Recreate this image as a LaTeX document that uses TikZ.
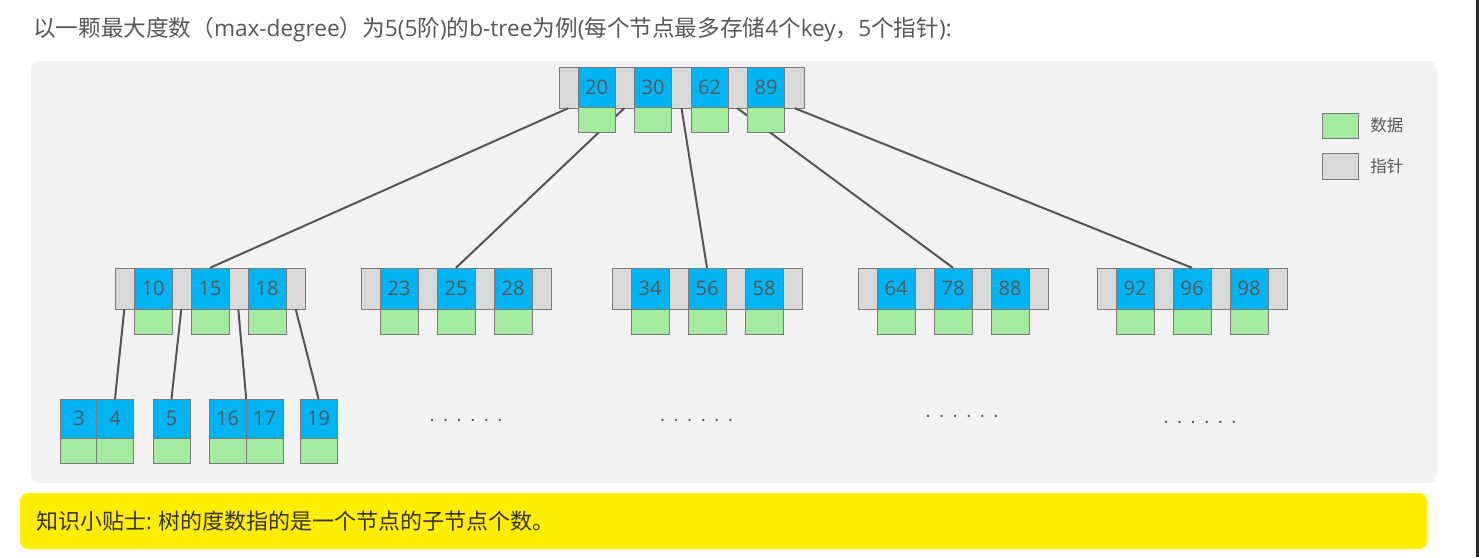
\documentclass[tikz,border=0pt]{standalone}
\usepackage{fontspec}
\setmainfont{Noto Sans CJK SC}
\newfontfamily\latin{Open Sans}
\newfontfamily\dotfont[LetterSpace=40]{Liberation Sans}
\usetikzlibrary{positioning}
\definecolor{keyblue}{HTML}{00B4F4}
\definecolor{datgreen}{HTML}{A3EB9E}
\definecolor{ptrgray}{HTML}{D9D9D9}
\definecolor{boxline}{HTML}{7A7A7A}
\definecolor{edgegray}{HTML}{555555}
\definecolor{txtgray}{HTML}{585858}
\definecolor{panelgray}{HTML}{F2F2F2}
\definecolor{tipyellow}{HTML}{FFEE00}
\begin{document}
\begin{tikzpicture}[x=1pt,y=-1pt,
  ptr/.style={draw=boxline, fill=ptrgray, minimum width=190pt, minimum height=41pt, inner sep=0pt},
  key/.style={draw=boxline, fill=keyblue, minimum width=38pt, minimum height=41pt, inner sep=0pt, font=\latin\fontsize{20}{20}\selectfont, text=txtgray},
  dat/.style={draw=boxline, fill=datgreen, minimum width=38pt, minimum height=25pt, inner sep=0pt},
  leaf/.style={key, minimum width=37pt, minimum height=39pt},
  link/.style={draw=edgegray, line width=2pt},
  dots/.style={anchor=base, inner sep=0pt, font=\dotfont\fontsize{20}{20}\selectfont, text=txtgray}]
\useasboundingbox (0,0) rectangle (1479,557);
\fill[white] (0,0) rectangle (1479,557);
\fill[panelgray, rounded corners=8pt] (31,61) rectangle (1437,483);
\fill[tipyellow, rounded corners=8pt] (20,493) rectangle (1427,549);
\fill[black!85] (1476,0) rectangle (1479,557);
\node[anchor=west, inner sep=0pt, text=txtgray, font=\fontsize{22.6}{22.6}\selectfont] (title) at (33,30)
  {以一颗最大度数（{\latin max-degree}）为{\latin 5(5}阶{\latin )}的{\latin b-tree}为例{\latin (}每个节点最多存储{\latin 4}个{\latin key}，{\latin 5}个指针{\latin ):}};
\node[anchor=west, inner sep=0pt, text=black!80, font=\fontsize{22}{22}\selectfont] (tip) at (36,521)
  {知识小贴士{\latin :} 树的度数指的是一个节点的子节点个数。};
% root
\node[ptr, minimum width=245pt] (root) at (681.5,87.5) {};
\node[key, minimum width=37pt] (k20) at (596.5,87.5) {20};
\node[key, minimum width=37pt] (k30) at (653,87.5) {30};
\node[key, minimum width=37pt] (k62) at (709.5,87.5) {62};
\node[key, minimum width=37pt] (k89) at (766,87.5) {89};
% second level
\node[ptr] (b1) at (210,288.5) {};
\node[key] (k10) at (153,288.5) {10};
\node[key] (k15) at (210,288.5) {15};
\node[key] (k18) at (267,288.5) {18};
\node[ptr] (b2) at (456,288.5) {};
\node[key] (k23) at (399,288.5) {23};
\node[key] (k25) at (456,288.5) {25};
\node[key] (k28) at (513,288.5) {28};
\node[ptr] (b3) at (707,288.5) {};
\node[key] (k34) at (650,288.5) {34};
\node[key] (k56) at (707,288.5) {56};
\node[key] (k58) at (764,288.5) {58};
\node[ptr] (b4) at (953,288.5) {};
\node[key] (k64) at (896,288.5) {64};
\node[key] (k78) at (953,288.5) {78};
\node[key] (k88) at (1010,288.5) {88};
\node[ptr] (b5) at (1192,288.5) {};
\node[key] (k92) at (1135,288.5) {92};
\node[key] (k96) at (1192,288.5) {96};
\node[key] (k98) at (1249,288.5) {98};
% leaves
\node[leaf] (l3) at (79,418.5) {3};
\node[leaf] (l4) at (115,418.5) {4};
\node[leaf] (l5) at (171.5,418.5) {5};
\node[leaf] (l16) at (227.5,418.5) {16};
\node[leaf] (l17) at (264.5,418.5) {17};
\node[leaf] (l19) at (318.5,418.5) {19};
% pointers
\draw[link] ([xshift=9.5pt]root.south west) -- (k15.north);
\draw[link] ([xshift=65.5pt]root.south west) -- (k25.north);
\draw[link] (root.south) -- (k56.north);
\draw[link] ([xshift=178.5pt]root.south west) -- (k78.north);
\draw[link] ([xshift=-9.5pt]root.south east) -- (k96.north);
\draw[link] ([xshift=9.5pt]b1.south west) -- (l4.north);
\draw[link] ([xshift=66.5pt]b1.south west) -- (l5.north);
\draw[link] ([xshift=123.5pt]b1.south west) -- (l16.north east);
\draw[link] ([xshift=-9.5pt]b1.south east) -- (l19.north);
% data
\node[dat, minimum width=37pt] (d20) at (596.5,120) {};
\node[dat, minimum width=37pt] (d30) at (653,120) {};
\node[dat, minimum width=37pt] (d62) at (709.5,120) {};
\node[dat, minimum width=37pt] (d89) at (766,120) {};
\node[dat] (d10) at (153,321.5) {};
\node[dat] (d15) at (210,321.5) {};
\node[dat] (d18) at (267,321.5) {};
\node[dat] (d23) at (399,321.5) {};
\node[dat] (d25) at (456,321.5) {};
\node[dat] (d28) at (513,321.5) {};
\node[dat] (d34) at (650,321.5) {};
\node[dat] (d56) at (707,321.5) {};
\node[dat] (d58) at (764,321.5) {};
\node[dat] (d64) at (896,321.5) {};
\node[dat] (d78) at (953,321.5) {};
\node[dat] (d88) at (1010,321.5) {};
\node[dat] (d92) at (1135,321.5) {};
\node[dat] (d96) at (1192,321.5) {};
\node[dat] (d98) at (1249,321.5) {};
\node[dat, minimum width=37pt] (e3) at (79,450.5) {};
\node[dat, minimum width=37pt] (e4) at (115,450.5) {};
\node[dat, minimum width=37pt] (e5) at (171.5,450.5) {};
\node[dat, minimum width=37pt] (e16) at (227.5,450.5) {};
\node[dat, minimum width=37pt] (e17) at (264.5,450.5) {};
\node[dat, minimum width=37pt] (e19) at (318.5,450.5) {};
\node[dots] (dt1) at (466,421) {......};
\node[dots] (dt2) at (696.5,421) {......};
\node[dots] (dt3) at (962,417) {......};
\node[dots] (dt4) at (1200,423) {......};
% legend
\node[dat, minimum width=36pt] (lgdat) at (1340,125.5) {};
\node[ptr, minimum width=36pt, minimum height=26pt] (lgptr) at (1340,166) {};
\node[right=12pt of lgdat, inner sep=0pt, text=txtgray, font=\fontsize{16.5}{16.5}\selectfont] (lgdattxt) {数据};
\node[right=12pt of lgptr, inner sep=0pt, text=txtgray, font=\fontsize{16.5}{16.5}\selectfont] (lgptrtxt) {指针};
\end{tikzpicture}
\end{document}
